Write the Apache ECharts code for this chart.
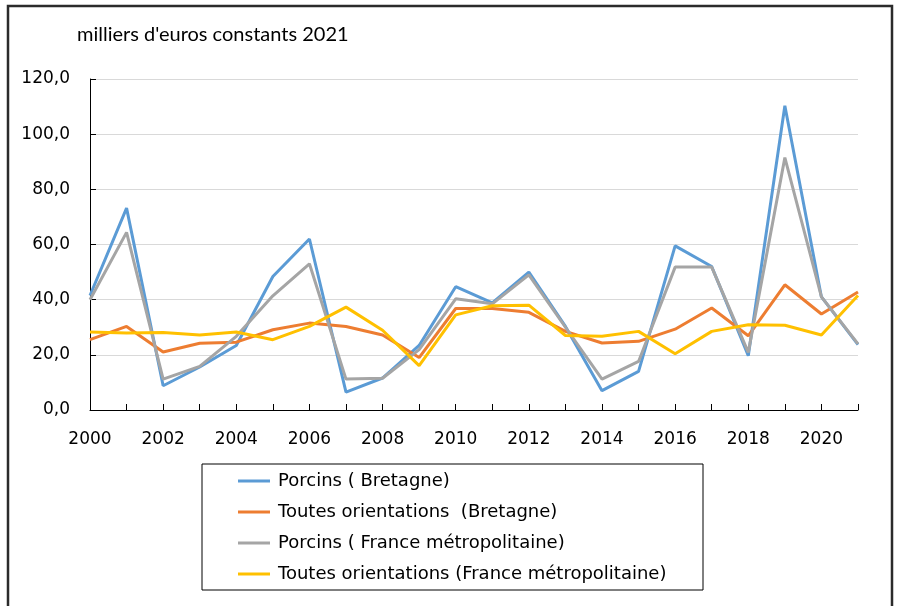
<!DOCTYPE html>
<html>
<head>
    <meta charset="utf-8">
    <title>Porcins</title>
    <script src="https://cdn.jsdelivr.net/npm/echarts@6/dist/echarts.min.js"></script>
    <style>
        body, html {
            margin: 0;
            background: #fff;
        }

        #main {
            width: 898px;
            height: 606px;
        }
    </style>
</head>
<body>
<div id="main"></div>
<script type="text/javascript">
    var years = ['2000', '2001', '2002', '2003', '2004', '2005', '2006', '2007', '2008', '2009', '2010',
        '2011', '2012', '2013', '2014', '2015', '2016', '2017', '2018', '2019', '2020', '2021'];

    var porcinsBretagne = [41.5, 73.2, 8.8, 15.6, 23.4, 48.4, 62.0, 6.5, 11.6, 23.4, 44.7,
        38.8, 50.0, 30.3, 7.0, 14.0, 59.5, 52.0, 19.7, 110.3, 41.0, 23.7];
    var toutesBretagne = [25.5, 30.3, 21.0, 24.2, 24.6, 29.1, 31.5, 30.3, 27.2, 19.0, 36.8,
        36.8, 35.4, 28.5, 24.3, 24.9, 29.3, 37.0, 26.9, 45.4, 34.8, 42.8];
    var porcinsFrance = [40.0, 64.4, 11.2, 15.8, 26.7, 41.4, 53.0, 11.2, 11.5, 21.9, 40.3,
        38.5, 49.0, 30.0, 11.2, 17.6, 51.8, 51.8, 20.9, 91.5, 41.0, 24.0];
    var toutesFrance = [28.3, 27.9, 28.1, 27.2, 28.3, 25.5, 30.3, 37.3, 28.9, 16.1, 34.5,
        37.8, 38.0, 27.0, 26.7, 28.5, 20.4, 28.5, 30.9, 30.7, 27.2, 41.5];

    var seriesNames = ['Porcins ( Bretagne)', 'Toutes orientations  (Bretagne)',
        'Porcins ( France métropolitaine)', 'Toutes orientations (France métropolitaine)'];

    var font = '"DejaVu Sans", sans-serif';

    var myChart = echarts.init(document.getElementById('main'));

    function makeLine(name, data) {
        return {
            name: name,
            type: 'line',
            symbol: 'none',
            lineStyle: {width: 3},
            data: data
        };
    }

    var option = {
        animation: false,
        backgroundColor: '#fff',
        color: ['#5b9bd5', '#ed7d31', '#a5a5a5', '#ffc000'],
        textStyle: {fontFamily: font},
        title: {
            text: "milliers d'euros constants 2021",
            left: 72,
            top: 20,
            textStyle: {
                fontFamily: 'Lato, sans-serif',
                fontSize: 20,
                fontWeight: 'normal',
                color: '#000'
            }
        },
        graphic: [
            {
                type: 'rect',
                shape: {x: 8, y: 6, width: 884, height: 620},
                style: {fill: 'none', stroke: '#2b2b2b', lineWidth: 2.5},
                silent: true
            },
            {
                type: 'rect',
                shape: {x: 202, y: 464, width: 501, height: 126},
                style: {fill: 'none', stroke: '#000', lineWidth: 1},
                silent: true
            }
        ],
        legend: {
            orient: 'vertical',
            left: 238,
            top: 472,
            icon: 'rect',
            itemWidth: 32,
            itemHeight: 3,
            itemGap: 13,
            padding: 0,
            data: seriesNames,
            textStyle: {
                fontFamily: font,
                fontSize: 18,
                color: '#000',
                padding: [0, 0, 0, 3]
            }
        },
        grid: {
            left: 90,
            right: 40,
            top: 79,
            bottom: 196
        },
        xAxis: {
            type: 'category',
            boundaryGap: false,
            data: years,
            axisLine: {lineStyle: {color: '#000', width: 1}},
            axisTick: {inside: true, length: 6, interval: 0, lineStyle: {color: '#000'}},
            axisLabel: {interval: 1, margin: 21, fontSize: 17, color: '#000', fontFamily: font}
        },
        yAxis: {
            type: 'value',
            min: 0,
            max: 120,
            interval: 20,
            axisLine: {show: true, lineStyle: {color: '#000', width: 1}},
            axisTick: {show: true, inside: true, length: 6, lineStyle: {color: '#000'}},
            axisLabel: {
                fontSize: 17,
                color: '#000',
                margin: 20,
                fontFamily: font,
                formatter: function (v) {
                    return v.toFixed(1).replace('.', ',');
                }
            },
            splitLine: {lineStyle: {color: '#d9d9d9', width: 1}}
        },
        series: [
            makeLine(seriesNames[0], porcinsBretagne),
            makeLine(seriesNames[1], toutesBretagne),
            makeLine(seriesNames[2], porcinsFrance),
            makeLine(seriesNames[3], toutesFrance)
        ]
    };

    myChart.setOption(option);
</script>
</body>
</html>
